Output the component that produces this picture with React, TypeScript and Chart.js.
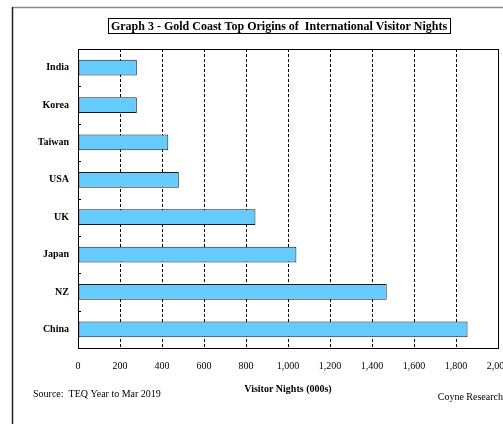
import React, { useEffect, useRef } from 'react';
import { Chart, registerables } from 'chart.js';

Chart.register(...registerables);

const categories = ['India', 'Korea', 'Taiwan', 'USA', 'UK', 'Japan', 'NZ', 'China'];
const visitorNights = [280, 280, 430, 480, 845, 1040, 1470, 1855];
const xMin = 0;
const xMax = 2000;
const xStep = 200;
const chartTitle = 'Graph 3 - Gold Coast Top Origins of  International Visitor Nights';
const axisTitle = 'Visitor Nights (000s)';
const sourceNote = 'Source:  TEQ Year to Mar 2019';
const creditNote = 'Coyne Research';

const SERIF = '"Liberation Serif", "Times New Roman", serif';

const decorPlugin = {
  id: 'decor',
  afterDraw(chart: any) {
    const ctx = chart.ctx as CanvasRenderingContext2D;
    const { left, right, top, bottom } = chart.chartArea;
    const yScale = chart.scales.y;
    ctx.save();
    ctx.setLineDash([]);

    // outer frame (top + left visible)
    ctx.strokeStyle = '#8a8a8a';
    ctx.lineWidth = 1.5;
    ctx.beginPath();
    ctx.moveTo(12, 7.5);
    ctx.lineTo(540, 7.5);
    ctx.stroke();
    ctx.strokeStyle = '#222';
    ctx.lineWidth = 1.5;
    ctx.beginPath();
    ctx.moveTo(12.5, 7);
    ctx.lineTo(12.5, 460);
    ctx.stroke();

    // plot border
    ctx.strokeStyle = '#000';
    ctx.lineWidth = 1;
    ctx.strokeRect(Math.round(left) + 0.5, Math.round(top) + 0.5, Math.round(right - left) - 0.0, Math.round(bottom - top));

    // category boundary ticks on the left axis
    const n = categories.length;
    for (let i = 1; i < n; i++) {
      const yb = (yScale.getPixelForValue(i - 1) + yScale.getPixelForValue(i)) / 2;
      ctx.beginPath();
      ctx.moveTo(left, Math.round(yb) + 0.5);
      ctx.lineTo(left + 3, Math.round(yb) + 0.5);
      ctx.stroke();
    }

    // title box
    ctx.font = `bold 12px ${SERIF}`;
    ctx.fillStyle = '#000';
    ctx.textBaseline = 'middle';
    ctx.textAlign = 'center';
    const cx = (left + right) / 2 - 9;
    const tw = ctx.measureText(chartTitle).width;
    const bx = Math.round(cx - tw / 2 - 3) + 0.5;
    const bw = Math.round(tw + 6);
    ctx.lineWidth = 1;
    ctx.strokeStyle = '#000';
    ctx.strokeRect(bx, 18.5, bw, 15);
    ctx.fillText(chartTitle, cx, 26.5);

    // axis title
    ctx.font = `bold 10px ${SERIF}`;
    ctx.fillText(axisTitle, (left + right) / 2, 389);

    // notes
    ctx.font = `10px ${SERIF}`;
    ctx.textAlign = 'left';
    ctx.fillText(sourceNote, 33, 394);
    ctx.textAlign = 'right';
    ctx.fillText(creditNote, 503, 397);
    ctx.restore();
  },
};

export default function App() {
  const ref = useRef<HTMLCanvasElement | null>(null);
  useEffect(() => {
    if (!ref.current) return;
    const chart = new Chart(ref.current, {
      type: 'bar',
      data: {
        labels: categories,
        datasets: [
          {
            data: visitorNights,
            backgroundColor: '#66CCFF',
            borderColor: '#1a1a1a',
            borderWidth: 1,
            borderSkipped: false,
            barPercentage: 0.42,
            categoryPercentage: 1,
          },
        ],
      },
      options: {
        indexAxis: 'y',
        responsive: false,
        animation: false,
        devicePixelRatio: 1,
        layout: { padding: { top: 49, left: 0, right: 42, bottom: 52 } },
        plugins: {
          legend: { display: false },
          tooltip: { enabled: false },
          title: { display: false },
        },
        scales: {
          x: {
            min: xMin,
            max: xMax,
            afterFit: (s: any) => {
              s.height = 60;
            },
            ticks: {
              stepSize: xStep,
              padding: 12,
              color: '#000',
              font: { family: SERIF, size: 10 },
              maxRotation: 0,
            },
            grid: {
              color: '#000',
              lineWidth: 1,
              drawTicks: false,
            },
            border: { display: true, color: '#000', dash: [3, 2] },
          },
          y: {
            afterFit: (s: any) => {
              s.width = 78;
            },
            ticks: {
              padding: 9,
              color: '#000',
              font: { family: SERIF, size: 10, weight: 'bold' },
            },
            grid: { display: false, drawTicks: false },
            border: { display: true, color: '#000' },
          },
        },
      },
      plugins: [decorPlugin],
    });
    return () => chart.destroy();
  }, []);

  return (
    <div style={{ position: 'fixed', left: 0, top: 0, width: 503, height: 424, overflow: 'hidden', background: '#fff' }}>
      <canvas ref={ref} width={540} height={460} style={{ display: 'block', width: 540, height: 460 }} />
    </div>
  );
}
